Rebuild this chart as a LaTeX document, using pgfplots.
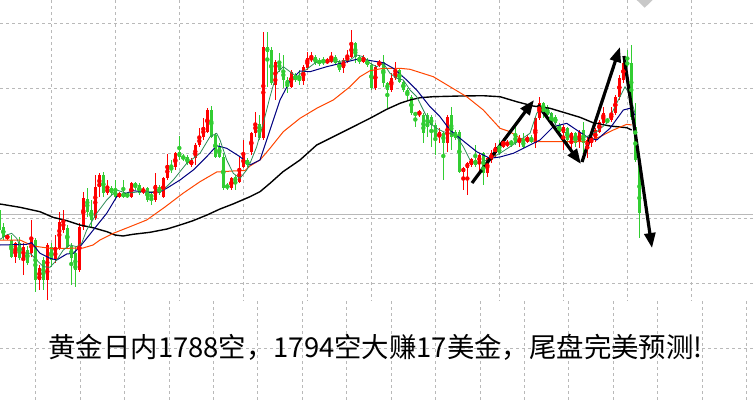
\documentclass[border=0pt]{standalone}
\usepackage{pgfplots}
\pgfplotsset{compat=1.18}
\usepackage{pgfplotstable}
\usepackage{fontspec}
\newfontfamily\cjk{Noto Sans CJK SC}
\usetikzlibrary{arrows.meta}
\definecolor{candred}{RGB}{255,0,0}
\definecolor{candgreen}{RGB}{50,205,50}
\definecolor{magreen}{RGB}{46,139,87}
\definecolor{manavy}{RGB}{0,0,128}
\definecolor{maorange}{RGB}{255,69,0}
\definecolor{gridc}{RGB}{185,185,185}

% candles: k = bar index, bt/bb = body top/bottom, wt/wb = wick top/bottom (screen units, downward)
\pgfplotstableread{
k bt bb wt wb
2 236 238 234 240
4 243 257 242 263
6 247 258 243 275
8 240 253 220 257
10 268 280 265 290
12 245 280 243 300
14 248 260 235 263
15 222 248 212 250
16 220 230 210 233
20 227 270 223 272
21 198 227 192 230
24 187 218 175 220
25 175 187 173 197
27 188 193 180 195
30 193 197 192 198
33 183 197 182 198
36 189 192 187 194
39 185 200 173 202
41 178 197 177 198
42 165 178 154 180
44 153 167 152 170
48 160 165 158 167
49 145 158 143 165
50 137 145 128 147
51 127 137 118 140
52 110 132 108 133
58 178 188 177 190
60 168 182 157 183
61 155 167 140 168
63 133 152 132 155
64 123 133 112 137
66 47 138 32 140
69 62 85 60 100
73 72 87 70 88
76 67 81 65 85
77 58 68 52 70
78 57 60 52 62
82 60 63 58 64
83 57 62 52 63
86 60 68 58 73
87 55 62 50 63
88 43 57 30 58
91 58 62 55 63
94 67 88 65 90
95 62 65 60 67
98 78 90 73 92
99 70 78 62 80
105 111 115 110 117
110 132 137 128 143
112 117 143 115 152
116 168 172 167 190
117 163 168 162 195
118 159 165 158 167
120 155 163 153 172
122 158 173 157 177
123 153 160 150 163
124 147 153 143 157
126 142 147 138 148
127 143 145 140 147
130 138 142 135 147
132 137 142 135 143
134 118 143 117 148
135 103 118 97 120
141 127 133 125 150
143 133 140 132 152
145 132 142 130 148
147 140 147 137 158
148 137 143 135 147
149 130 140 128 142
150 122 132 120 133
151 113 123 107 125
153 113 120 107 122
154 97 113 95 115
155 78 97 75 100
156 63 80 60 83
}\redcandles

\pgfplotstableread{
k bt bb wt wb
0 210 230 208 233
1 227 237 223 240
3 240 257 235 258
5 243 258 237 260
7 250 263 246 265
9 240 280 238 292
11 260 280 257 290
13 247 260 243 267
17 228 247 225 248
18 246 258 243 285
19 253 270 247 287
22 199 212 188 217
23 210 220 200 227
26 175 193 172 197
28 188 193 186 195
29 190 197 180 200
31 193 197 180 198
32 194 197 192 198
34 183 187 182 190
35 185 193 183 195
37 188 200 187 202
38 195 197 193 205
40 187 193 185 195
43 167 170 160 173
45 152 157 136 160
46 156 159 154 161
47 157 163 155 165
53 110 137 106 138
54 135 157 133 158
55 147 157 143 158
56 157 188 153 190
57 185 188 183 190
59 177 182 175 190
62 160 165 158 167
65 124 138 115 140
67 47 52 32 87
68 50 83 47 85
70 62 70 53 72
71 70 80 55 88
72 80 85 77 93
74 75 80 73 82
75 77 81 70 85
79 57 63 55 65
80 60 64 58 66
81 60 63 57 65
84 57 63 55 64
85 62 70 60 72
89 43 57 42 63
90 57 62 55 64
92 60 65 58 67
93 65 88 63 90
96 62 83 55 87
97 83 90 82 108
100 70 82 68 83
101 82 90 80 92
102 90 95 88 100
103 97 113 95 115
104 113 115 112 127
106 115 133 113 143
107 115 127 113 137
108 117 125 115 147
109 125 137 123 155
111 133 143 132 180
113 115 137 107 150
114 132 138 130 140
115 132 172 130 173
119 160 165 145 167
121 153 173 152 185
125 148 153 140 155
128 141.5 143.5 140 147
129 135 143 125 145
131 140 147 133 148
133 138 142 135 143
136 103 110 102 118
137 107 115 105 117
138 113 123 112 125
139 117 123 115 125
140 125 132 123 133
142 128 140 127 143
144 133 143 132 147
146 130 143 122 157
152 120 122 118 123
157 62 65 50 67
158 63 117 45 120
159 127 160 103 162
160 160 213 158 238
}\greencandles

\begin{document}
\begin{tikzpicture}
\begin{axis}[
  width=753pt, height=402pt, scale only axis,
  xmin=0, xmax=753, ymin=0, ymax=402, y dir=reverse,
  axis line style={draw=none}, ticks=none,
  clip=true,
]
% grid of the upper chart
\pgfplotsinvokeforeach{51.7,115.7,179.7,243.7,307.7,371.7,435.7,499.7,563.7,627.7,691.7}{
  \draw[gridc, line width=1pt, dash pattern=on 3pt off 3pt] (axis cs:#1,0) -- (axis cs:#1,301);
}
\pgfplotsinvokeforeach{23.4,88.4,153.4,218.4,283.3}{
  \draw[gridc, line width=1pt, dash pattern=on 3pt off 3pt] (axis cs:0,#1) -- (axis cs:753,#1);
}
% grid of the lower strip
\pgfplotsinvokeforeach{35.7,80.1,124.6,169.0,213.4,257.9,302.3,346.7,391.1,435.6,480.0,524.4,568.9,613.3,657.7,702.2,746.6}{
  \draw[gridc, line width=1pt, dash pattern=on 3pt off 3pt] (axis cs:#1,301) -- (axis cs:#1,402);
}
\draw[gridc, line width=1pt, dash pattern=on 3pt off 3pt] (axis cs:0,348) -- (axis cs:753,348);
% solid price line
\addplot[color={rgb,255:red,185;green,185;blue,185}, line width=1.3pt] coordinates {(0,214.3) (753,214.3)};
% marker triangle at top
\addplot[fill={rgb,255:red,200;green,200;blue,200}, draw=none] coordinates {(636.7,0) (652.7,0) (644.7,7.7)} -- cycle;

% candles: wicks
\addplot[candred, only marks, mark=none, error bars/.cd, y dir=both, y explicit,
  error mark=none, error bar style={candred, line width=1pt}]
  table[x expr=4*\thisrow{k}-0.7, y expr=(\thisrow{wt}+\thisrow{wb})/2, y error expr=(\thisrow{wb}-\thisrow{wt})/2] {\redcandles};
\addplot[candgreen, only marks, mark=none, error bars/.cd, y dir=both, y explicit,
  error mark=none, error bar style={candgreen, line width=1pt}]
  table[x expr=4*\thisrow{k}-0.7, y expr=(\thisrow{wt}+\thisrow{wb})/2, y error expr=(\thisrow{wb}-\thisrow{wt})/2] {\greencandles};
% candles: bodies
\addplot[candred, only marks, mark=none, error bars/.cd, y dir=both, y explicit,
  error mark=none, error bar style={candred, line width=3pt}]
  table[x expr=4*\thisrow{k}-0.7, y expr=(\thisrow{bt}+\thisrow{bb})/2, y error expr=(\thisrow{bb}-\thisrow{bt})/2] {\redcandles};
\addplot[candgreen, only marks, mark=none, error bars/.cd, y dir=both, y explicit,
  error mark=none, error bar style={candgreen, line width=3pt}]
  table[x expr=4*\thisrow{k}-0.7, y expr=(\thisrow{bt}+\thisrow{bb})/2, y error expr=(\thisrow{bb}-\thisrow{bt})/2] {\greencandles};

% moving averages
\addplot[black, line width=1.4pt] coordinates {(0,204) (20,207.3) (40,211.7) (53,217.3) (67,220.7) (80,225) (93,227.7) (107,231.7) (115,235) (123,236) (133,234.3) (150,232.3) (167,229) (180,225) (193,220.7) (207,215) (220,209) (233,204) (250,196.7) (260,191.7) (270,183.3) (283,171.7) (300,160) (316.7,145) (336.7,135) (353.3,126.7) (370,118.3) (386.7,109.3) (400,103.3) (410,100) (420,97.7) (433,96.7) (460,96) (483,95.7) (500,96.7) (516.7,101.7) (533,106) (550,108.3) (566.7,113.3) (580,117.3) (593,122.7) (610,126) (626.7,127.7) (631.7,130)};
\addplot[maorange, line width=1pt] coordinates {(0,240) (20,240) (33,246) (50,248.3) (66.7,248.3) (83,248) (93,245) (100,240) (113.3,233.3) (130,226.7) (146.7,220) (165,207) (183,193.3) (200,181.7) (216.7,172) (233,171) (245,170.5) (250,166) (260,160) (270,148.3) (283.3,131.7) (300,118.3) (316.7,108.3) (333.3,100) (350,86.7) (360,76.7) (370,70.7) (383.3,68.3) (400,68.3) (410,69.3) (433.3,76.7) (450,86.7) (466.7,96.7) (483.3,110) (500,128.3) (510,131.7) (520,138.3) (530,140.7) (540,141.7) (566.7,141.7) (586.7,141.7) (600,136.7) (613.3,130) (626.7,124.3) (631.7,125)};
\addplot[manavy, line width=1pt] coordinates {(0,245) (26.7,244.3) (31.7,242.7) (40,253.3) (50,258.3) (56.7,260) (66.7,254) (73.3,253.3) (80,246.7) (93.3,230) (106.7,213.3) (116.7,196.7) (133.3,190.7) (150,192.7) (160,191.7) (166.7,188.3) (180,180) (193.3,170) (206.7,156.7) (216.7,145.7) (226.7,148.3) (240,156.7) (250,165) (260,160) (270,130) (280,100) (290,81) (300,71) (310,71.7) (326.7,66.7) (343.3,62.7) (356.7,59.3) (366.7,60) (383.3,62.7) (393.3,68.3) (406.7,80) (416.7,90) (430,106.7) (440,116.7) (450,130) (460,138.3) (476.7,151.7) (490,158.3) (500,157) (513.3,153.3) (526.7,146.7) (540,140) (553.3,126.7) (566.7,123.3) (576.7,130) (586.7,136.7) (596.7,140) (610,128.3) (623.3,110) (630,108.3) (635,115)};
\addplot[magreen, line width=0.8pt] coordinates {(0,239.3) (6.7,235) (11.7,233.3) (16.7,238.3) (23.3,253.3) (30,253.3) (36.7,260) (43.3,266.7) (50,267.3) (56.7,260) (63.3,250) (70,245) (76.7,246.7) (81.7,243.3) (86.7,230) (96.7,213.3) (106.7,200) (116.7,190) (126.7,193.3) (140,191.7) (153.3,191.7) (163.3,190) (173.3,180) (186.7,163.3) (200,153.3) (210,136.7) (216.7,133.3) (220,140) (226.7,160) (233.3,173.3) (240,178.3) (246.7,170) (250,163.3) (256.7,146.7) (263.3,123.3) (270,96.7) (276.7,73.3) (283.3,66.7) (290,71.7) (296.7,76.7) (303.3,71.7) (316.7,61.7) (336.7,61.7) (350,60) (356.7,55) (363.3,56.7) (370,63.3) (376.7,66.7) (383.3,63.3) (390,73.3) (396.7,78.3) (403.3,80) (410,90) (416.7,96.7) (423.3,110) (430,123.3) (436.7,128.3) (443.3,131.7) (450,133.3) (456.7,136.7) (463.3,146.7) (470,160) (476.7,163.3) (483.3,161.7) (493.3,156.7) (500,153.3) (510,146.7) (520,140) (530,133.3) (536.7,113.3) (543.3,106.7) (550,113.3) (556.7,126.7) (566.7,133.3) (576.7,140) (586.7,136.7) (596.7,131.7) (606.7,123.3) (616.7,103.3) (625,86.7) (630,95) (635,113.3)};

% hand-drawn arrows
\addplot[black, line width=3.2pt, -{Triangle[length=15pt,width=11pt]}] coordinates {(472,183) (534,100)};
\addplot[black, line width=3.2pt, -{Triangle[length=15pt,width=11pt]}] coordinates {(538,105) (581,164)};
\addplot[black, line width=3.2pt, -{Triangle[length=15pt,width=11pt]}] coordinates {(582,162) (620,47)};
\addplot[black, line width=3.2pt, -{Triangle[length=15pt,width=11pt]}] coordinates {(624,56) (652,248)};

\node[anchor=center, inner sep=0pt, font=\cjk\fontsize{27.4}{31}\selectfont] at (axis cs:375.5,347) {黄金日内1788空，1794空大赚17美金，尾盘完美预测!};
\end{axis}
\end{tikzpicture}
\end{document}
